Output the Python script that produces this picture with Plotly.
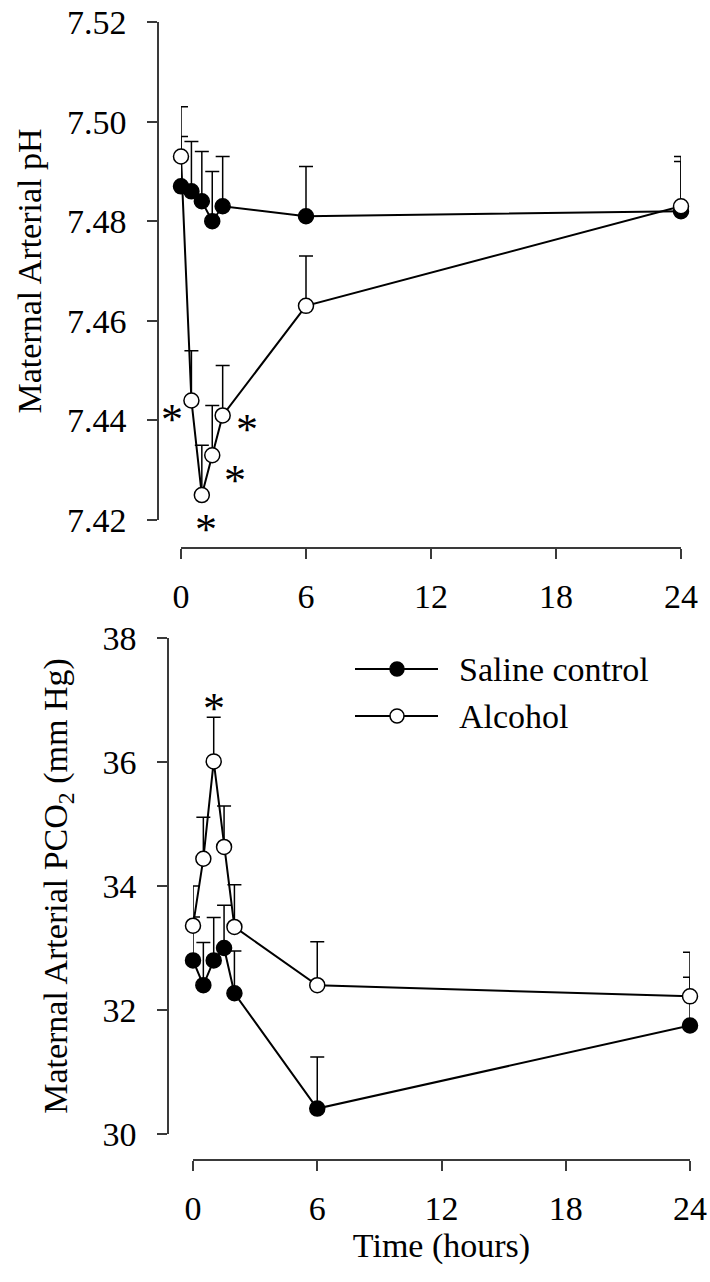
import plotly.graph_objects as go

# ---- data -------------------------------------------------------------
hours = [0, 0.5, 1, 1.5, 2, 6, 24]
hour_ticks = [0, 6, 12, 18, 24]

ph_saline = [7.487, 7.486, 7.484, 7.480, 7.483, 7.481, 7.482]
ph_saline_se = [0.010, 0.010, 0.010, 0.010, 0.010, 0.010, 0.010]
ph_alcohol = [7.493, 7.444, 7.425, 7.433, 7.441, 7.463, 7.483]
ph_alcohol_se = [0.010, 0.010, 0.010, 0.010, 0.010, 0.010, 0.010]
ph_alcohol_sig = [False, True, True, True, True, False, False]
ph_ticks = [7.42, 7.44, 7.46, 7.48, 7.50, 7.52]

pco2_saline = [32.80, 32.40, 32.80, 33.00, 32.27, 30.41, 31.75]
pco2_saline_se = [0.70, 0.69, 0.69, 0.69, 0.68, 0.83, 0.78]
pco2_alcohol = [33.36, 34.44, 36.01, 34.63, 33.34, 32.40, 32.22]
pco2_alcohol_se = [0.64, 0.67, 0.71, 0.66, 0.68, 0.70, 0.71]
pco2_alcohol_sig = [False, False, True, False, False, False, False]
pco2_ticks = [30, 32, 34, 36, 38]

group_names = ["Saline control", "Alcohol"]

# ---- styling ----------------------------------------------------------
W, H = 710, 1282
FONT = "Liberation Serif, Times New Roman, serif"
FS = 34
STAR_FS = 44
AXIS_COLOR = "#3a3a3a"
MARKER_SIZE = 15


def px_x(px):
    return px / W


def px_y(px):
    return 1 - px / H


# pixel offsets (right, up) of significance stars relative to their points
ph_star_offsets = {1: (-19, -10), 2: (4, -25), 3: (23, -16), 4: (24, -5)}
pco2_star_offsets = {2: (0, 18)}
STAR_RAISE = -9  # compensate for the asterisk sitting high in its line box

fig = go.Figure()


def add_group(x, y, se, filled, xa, ya, name):
    fig.add_trace(go.Scatter(
        x=x, y=y, name=name, mode="lines+markers",
        xaxis=xa, yaxis=ya, cliponaxis=False, showlegend=False,
        line=dict(color="black", width=2),
        marker=dict(size=MARKER_SIZE,
                    color="black" if filled else "white",
                    line=dict(color="black", width=1.5)),
        error_y=dict(type="data", symmetric=False, array=se,
                     arrayminus=[0 for _ in se], color="black",
                     thickness=1.5, width=7),
    ))


add_group(hours, ph_saline, ph_saline_se, True, "x", "y", group_names[0])
add_group(hours, ph_alcohol, ph_alcohol_se, False, "x", "y", group_names[1])
add_group(hours, pco2_saline, pco2_saline_se, True, "x2", "y2", group_names[0])
add_group(hours, pco2_alcohol, pco2_alcohol_se, False, "x2", "y2", group_names[1])

# significance markers
for i, flag in enumerate(ph_alcohol_sig):
    if flag:
        dx, dy = ph_star_offsets[i]
        fig.add_annotation(x=hours[i], y=ph_alcohol[i], xref="x", yref="y",
                           text="*", showarrow=False,
                           font=dict(family=FONT, size=STAR_FS, color="black"),
                           xshift=dx, yshift=dy + STAR_RAISE)
for i, flag in enumerate(pco2_alcohol_sig):
    if flag:
        dx, dy = pco2_star_offsets[i]
        fig.add_annotation(x=hours[i], y=pco2_alcohol[i] + pco2_alcohol_se[i],
                           xref="x2", yref="y2",
                           text="*", showarrow=False,
                           font=dict(family=FONT, size=STAR_FS, color="black"),
                           xshift=dx, yshift=dy + STAR_RAISE)

axis_common = dict(showline=True, linecolor=AXIS_COLOR, linewidth=1.5,
                   ticks="outside", ticklen=10, tickwidth=1.5,
                   tickcolor=AXIS_COLOR, showgrid=False, zeroline=False,
                   tickfont=dict(family=FONT, size=FS, color="black"),
                   automargin=False)

fig.update_layout(
    width=W, height=H,
    margin=dict(l=0, r=0, t=0, b=0),
    paper_bgcolor="white", plot_bgcolor="white",
    showlegend=False,
    font=dict(family=FONT, size=FS, color="black"),
    xaxis=dict(axis_common, domain=[px_x(181), px_x(681)], range=[0, 24],
               tickvals=hour_ticks, anchor="free", position=px_y(548),
               ticklabelstandoff=8),
    yaxis=dict(axis_common, domain=[px_y(520), px_y(22)], range=[7.42, 7.52],
               tickvals=ph_ticks, tickformat=".2f", anchor="free",
               position=px_x(158), ticklabelstandoff=14,
               title=dict(text="Maternal Arterial pH", standoff=14,
                          font=dict(family=FONT, size=FS))),
    xaxis2=dict(axis_common, domain=[px_x(193), px_x(690)], range=[0, 24],
                tickvals=hour_ticks, anchor="free", position=px_y(1160),
                ticklabelstandoff=8,
                title=dict(text="Time (hours)", standoff=0,
                           font=dict(family=FONT, size=FS))),
    yaxis2=dict(axis_common, domain=[px_y(1134), px_y(638)], range=[30, 38],
                tickvals=pco2_ticks, anchor="free", position=px_x(168),
                ticklabelstandoff=14,
                title=dict(text="Maternal Arterial PCO<sub>2</sub> (mm Hg)",
                           standoff=24, font=dict(family=FONT, size=FS))),
)

# legend drawn inside the lower panel
legend_rows = [(669, True), (716, False)]
for (row_y, filled), name in zip(legend_rows, group_names):
    yp = px_y(row_y)
    fig.add_shape(type="line", xref="paper", yref="paper",
                  x0=px_x(355), x1=px_x(438), y0=yp, y1=yp,
                  line=dict(color="black", width=2))
    fig.add_shape(type="circle", xref="paper", yref="paper",
                  xsizemode="pixel", ysizemode="pixel",
                  xanchor=px_x(397), yanchor=yp,
                  x0=-7, x1=7, y0=-7, y1=7,
                  fillcolor="black" if filled else "white",
                  line=dict(color="black", width=1.5))
    fig.add_annotation(xref="paper", yref="paper", x=px_x(457), y=yp,
                       xanchor="left", yanchor="middle", text=name,
                       showarrow=False,
                       font=dict(family=FONT, size=FS, color="black"))

fig.write_html("out.html")
